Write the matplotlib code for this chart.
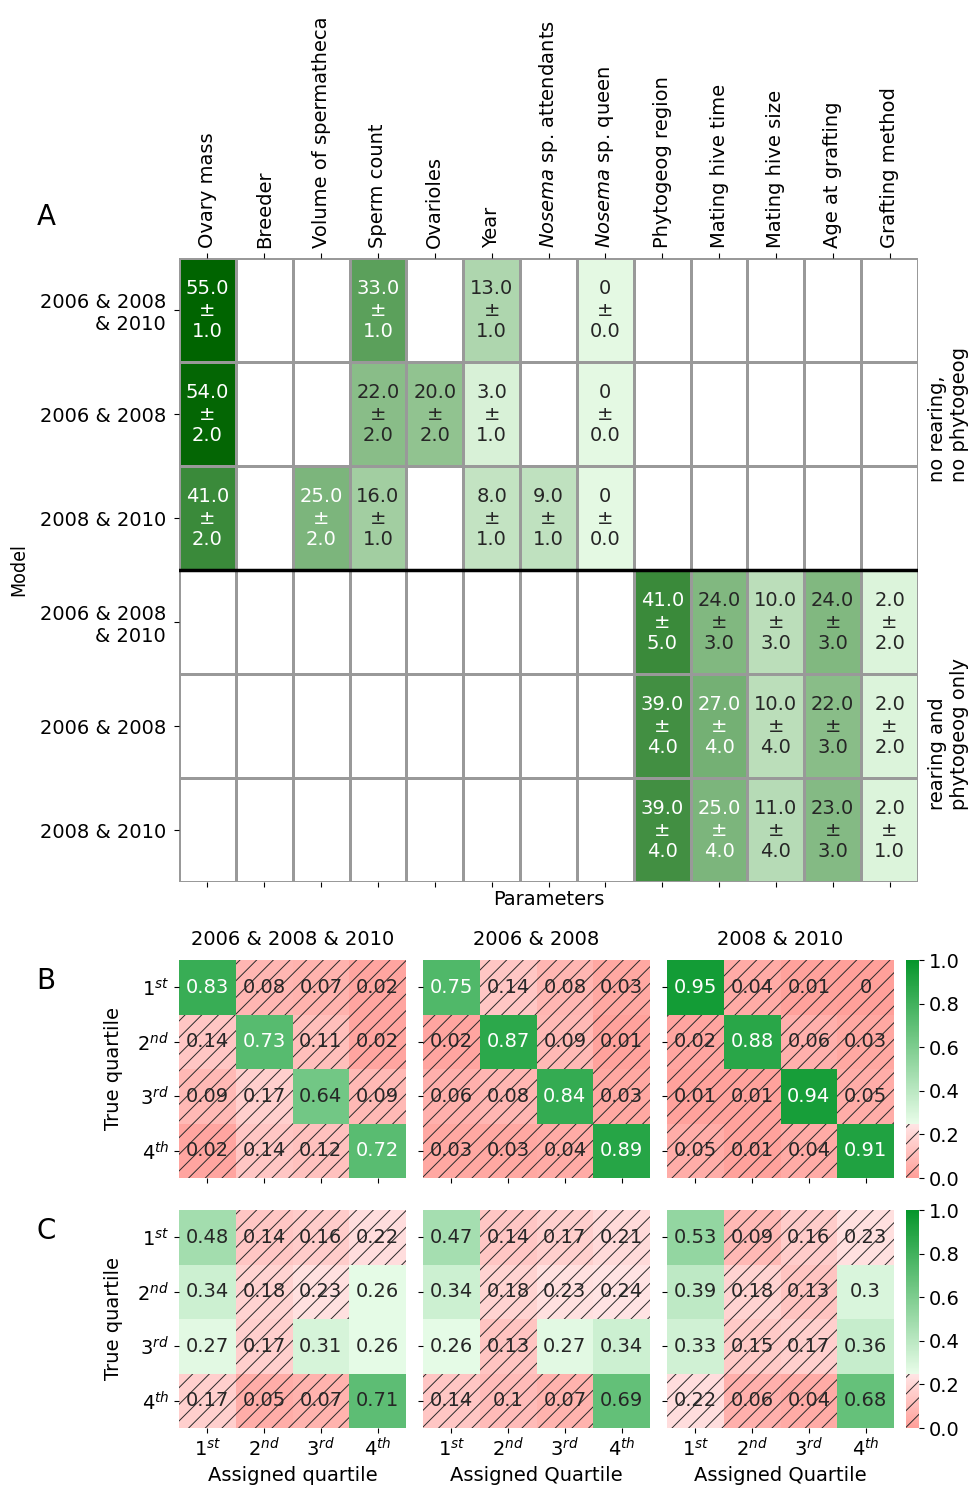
import numpy as np
import matplotlib
matplotlib.use('Agg')
import matplotlib.pyplot as plt
from matplotlib.colors import LinearSegmentedColormap
from matplotlib.patches import Rectangle

plt.rcParams['font.family'] = ['DejaVu Sans']
plt.rcParams['font.size'] = 14
plt.rcParams['hatch.linewidth'] = 0.7

# --- panel A: parameter importance per model ---
parameters = ['Ovary mass', 'Breeder', 'Volume of spermatheca', 'Sperm count',
              'Ovarioles', 'Year', r'$\it{Nosema}$ sp. attendants',
              r'$\it{Nosema}$ sp. queen', 'Phytogeog region', 'Mating hive time',
              'Mating hive size', 'Age at grafting', 'Grafting method']
models = ['2006 & 2008\n& 2010', '2006 & 2008', '2008 & 2010',
          '2006 & 2008\n& 2010', '2006 & 2008', '2008 & 2010']
groups = ['no rearing,\nno phytogeog', 'rearing and\nphytogeog only']

nan = np.nan
importance_mean = np.array([
    [55, nan, nan, 33, nan, 13, nan, 0, nan, nan, nan, nan, nan],
    [54, nan, nan, 22, 20, 3, nan, 0, nan, nan, nan, nan, nan],
    [41, nan, 25, 16, nan, 8, 9, 0, nan, nan, nan, nan, nan],
    [nan, nan, nan, nan, nan, nan, nan, nan, 41, 24, 10, 24, 2],
    [nan, nan, nan, nan, nan, nan, nan, nan, 39, 27, 10, 22, 2],
    [nan, nan, nan, nan, nan, nan, nan, nan, 39, 25, 11, 23, 2],
])
importance_std = np.array([
    [1, nan, nan, 1, nan, 1, nan, 0, nan, nan, nan, nan, nan],
    [2, nan, nan, 2, 2, 1, nan, 0, nan, nan, nan, nan, nan],
    [2, nan, 2, 1, nan, 1, 1, 0, nan, nan, nan, nan, nan],
    [nan, nan, nan, nan, nan, nan, nan, nan, 5, 3, 3, 3, 2],
    [nan, nan, nan, nan, nan, nan, nan, nan, 4, 4, 4, 3, 2],
    [nan, nan, nan, nan, nan, nan, nan, nan, 4, 4, 4, 3, 1],
])

# --- panels B and C: confusion matrices (rows true, cols assigned) ---
quartiles = ['1$^{st}$', '2$^{nd}$', '3$^{rd}$', '4$^{th}$']
year_sets = ['2006 & 2008 & 2010', '2006 & 2008', '2008 & 2010']

conf_b_all = np.array([[0.83, 0.08, 0.07, 0.02],
                       [0.14, 0.73, 0.11, 0.02],
                       [0.09, 0.17, 0.64, 0.09],
                       [0.02, 0.14, 0.12, 0.72]])
conf_b_0608 = np.array([[0.75, 0.14, 0.08, 0.03],
                        [0.02, 0.87, 0.09, 0.01],
                        [0.06, 0.08, 0.84, 0.03],
                        [0.03, 0.03, 0.04, 0.89]])
conf_b_0810 = np.array([[0.95, 0.04, 0.01, 0.0],
                        [0.02, 0.88, 0.06, 0.03],
                        [0.01, 0.01, 0.94, 0.05],
                        [0.05, 0.01, 0.04, 0.91]])
conf_c_all = np.array([[0.48, 0.14, 0.16, 0.22],
                       [0.34, 0.18, 0.23, 0.26],
                       [0.27, 0.17, 0.31, 0.26],
                       [0.17, 0.05, 0.07, 0.71]])
conf_c_0608 = np.array([[0.47, 0.14, 0.17, 0.21],
                        [0.34, 0.18, 0.23, 0.24],
                        [0.26, 0.13, 0.27, 0.34],
                        [0.14, 0.1, 0.07, 0.69]])
conf_c_0810 = np.array([[0.53, 0.09, 0.16, 0.23],
                        [0.39, 0.18, 0.13, 0.3],
                        [0.33, 0.15, 0.17, 0.36],
                        [0.22, 0.06, 0.04, 0.68]])
x_labels_c = ['Assigned quartile', 'Assigned Quartile', 'Assigned Quartile']

chance = 0.25

W, H = 976, 1494
fig = plt.figure(figsize=(W / 100, H / 100), dpi=100)


def box(x0, y0, x1, y1):
    return [x0 / W, 1 - y1 / H, (x1 - x0) / W, (y1 - y0) / H]


dark_text = '#262626'

# ----- A -----
cmap_a = LinearSegmentedColormap.from_list('imp', ['#e4f9e3', '#006400'])
cmap_a.set_bad('white')

ax = fig.add_axes(box(179, 258, 918, 882))
ax.pcolormesh(np.ma.masked_invalid(importance_mean), cmap=cmap_a, vmin=0, vmax=55,
              edgecolors='#999999', linewidth=0.9)
ax.set_xlim(0, len(parameters))
ax.set_ylim(len(models), 0)
for i in range(importance_mean.shape[0]):
    for j in range(importance_mean.shape[1]):
        m = importance_mean[i, j]
        if np.isnan(m):
            continue
        s = importance_std[i, j]
        mean_txt = '0' if m == 0 else f'{m:.1f}'
        ax.text(j + 0.5, i + 0.5, f'{mean_txt}\n±\n{s:.1f}', ha='center', va='center',
                fontsize=14, linespacing=1.15,
                color='white' if m > 24.5 else dark_text)
ax.axhline(3, color='black', lw=2.5)
ax.set_xticks(np.arange(len(parameters)) + 0.5)
ax.set_xticklabels(parameters, rotation=90)
ax.set_yticks(np.arange(len(models)) + 0.5)
ax.set_yticklabels(models)
ax.tick_params(axis='x', top=True, labeltop=True, bottom=True, labelbottom=False)
ax.tick_params(axis='y', pad=6)
for sp in ax.spines.values():
    sp.set_visible(False)
ax.set_xlabel('Parameters', labelpad=2)
ax.set_ylabel('Model', fontsize=14, fontstretch='condensed', labelpad=8)
ax.text(1.041, 0.75, groups[0], transform=ax.transAxes, rotation=90,
        ha='center', va='center', multialignment='left')
ax.text(1.041, 0.237, groups[1], transform=ax.transAxes, rotation=90,
        ha='center', va='center', multialignment='left')

# ----- B and C -----
cmap_q = LinearSegmentedColormap.from_list(
    'quart', [(0.0, '#ffa09a'), (chance, '#ffe6e6'),
              (chance, '#e8fce8'), (1.0, '#05962a')])

rows = [
    ('B', 960, 1178, [conf_b_all, conf_b_0608, conf_b_0810]),
    ('C', 1210, 1428, [conf_c_all, conf_c_0608, conf_c_0810]),
]
cols = [(179, 406), (423, 650), (667, 894)]

for r, (letter, top, bottom, mats) in enumerate(rows):
    for k, conf in enumerate(mats):
        ax = fig.add_axes(box(cols[k][0], top, cols[k][1], bottom))
        mesh = ax.pcolormesh(conf, cmap=cmap_q, vmin=0, vmax=1)
        ax.set_xlim(0, 4)
        ax.set_ylim(4, 0)
        for i in range(4):
            for j in range(4):
                v = conf[i, j]
                if v < chance:
                    ax.add_patch(Rectangle((j, i), 1, 1, fill=False, hatch='//',
                                           edgecolor='#2a2a2a', lw=0))
                ax.text(j + 0.5, i + 0.5, format(v, 'g'), ha='center', va='center',
                        fontsize=14, color='white' if v > 0.715 else dark_text)
        for sp in ax.spines.values():
            sp.set_visible(False)
        ax.set_xticks(np.arange(4) + 0.5)
        ax.set_yticks(np.arange(4) + 0.5)
        if r == 1:
            ax.set_xticklabels(quartiles)
            ax.set_xlabel(x_labels_c[k])
        else:
            ax.set_xticklabels([])
            ax.set_title(year_sets[k], fontsize=14, pad=11)
        if k == 0:
            ax.set_yticklabels(quartiles)
            ax.set_ylabel('True quartile', labelpad=10)
        else:
            ax.set_yticklabels([])

    cax = fig.add_axes(box(906, top, 919, bottom))
    cbar = fig.colorbar(mesh, cax=cax, ticks=[0, 0.2, 0.4, 0.6, 0.8, 1.0])
    cbar.outline.set_visible(False)
    cbar.ax.yaxis.set_major_formatter(plt.FormatStrFormatter('%.1f'))
    cax.add_patch(Rectangle((0, 0), 1, chance, transform=cax.transAxes, fill=False,
                            hatch='//', edgecolor='#2a2a2a', lw=0))
    fig.text(46 / W, 1 - (top + 21) / H, letter, ha='center', va='center', fontsize=20)

fig.text(46 / W, 1 - 217 / H, 'A', ha='center', va='center', fontsize=20)

fig.savefig('out.png', dpi=100)
